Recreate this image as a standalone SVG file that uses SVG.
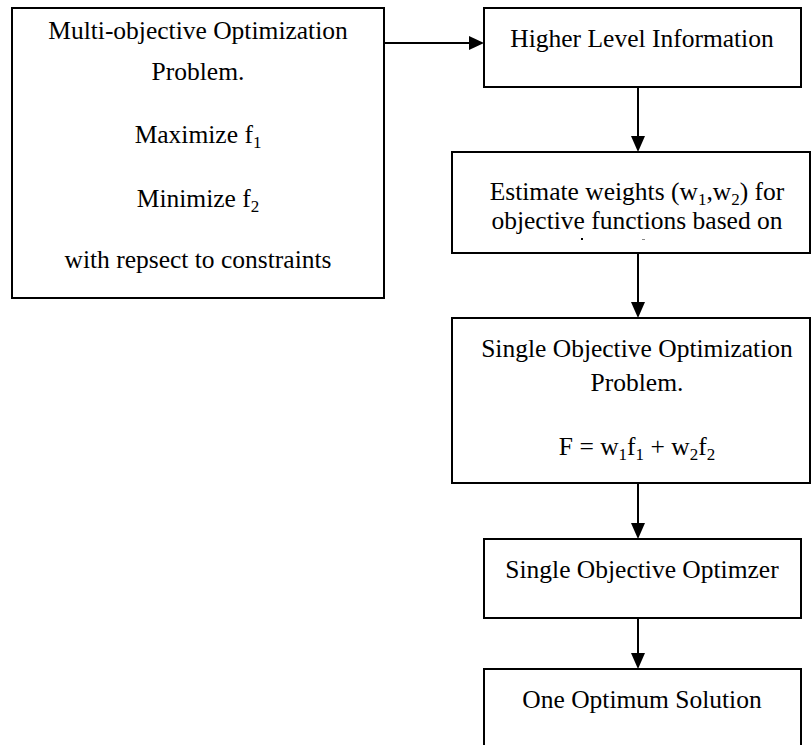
<svg xmlns="http://www.w3.org/2000/svg" width="811" height="745" viewBox="0 0 811 745">
  <style>
    .box { fill: #ffffff; stroke: #000000; stroke-width: 2; }
    .lbl { font-family: 'Liberation Serif', 'DejaVu Serif', serif; font-size: 25.5px; fill: #000000; text-anchor: middle; }
    .sub { font-size: 17px; }
    .edge { stroke: #000000; stroke-width: 2; fill: none; }
    .head { fill: #000000; stroke: none; }
  </style>
  <rect width="811" height="745" fill="#ffffff"/>

  <!-- connectors -->
  <g id="connectors">
    <line class="edge" x1="384" y1="43" x2="471" y2="43"/>
    <polygon class="head" points="484,43 469,36 469,50"/>

    <line class="edge" x1="638" y1="87" x2="638" y2="138"/>
    <polygon class="head" points="638,152 631,136 645,136"/>

    <line class="edge" x1="638" y1="253" x2="638" y2="304"/>
    <polygon class="head" points="638,318 631,302 645,302"/>

    <line class="edge" x1="638" y1="483" x2="638" y2="525"/>
    <polygon class="head" points="638,539 631,523 645,523"/>

    <line class="edge" x1="638" y1="618" x2="638" y2="655"/>
    <polygon class="head" points="638,669 631,653 645,653"/>
  </g>

  <!-- multi-objective problem -->
  <g id="multi-objective">
    <rect class="box" x="12" y="8" width="372" height="290"/>
    <text class="lbl" font-family="Liberation Serif, serif" x="198" y="39">Multi-objective Optimization</text>
    <text class="lbl" font-family="Liberation Serif, serif" x="198" y="80">Problem.</text>
    <text class="lbl" font-family="Liberation Serif, serif" x="198" y="143">Maximize f<tspan class="sub" dy="5">1</tspan></text>
    <text class="lbl" font-family="Liberation Serif, serif" x="198" y="207">Minimize f<tspan class="sub" dy="5">2</tspan></text>
    <text class="lbl" font-family="Liberation Serif, serif" x="198" y="268">with repsect to constraints</text>
  </g>

  <!-- higher level information -->
  <g id="higher-level">
    <rect class="box" x="484" y="8" width="317" height="79"/>
    <text class="lbl" font-family="Liberation Serif, serif" x="642" y="47">Higher Level Information</text>
  </g>

  <!-- weight estimation -->
  <g id="estimate-weights">
    <rect class="box" x="452" y="152" width="358" height="101"/>
    <text class="lbl" font-family="Liberation Serif, serif" x="637" y="200">Estimate weights (w<tspan class="sub" dy="5">1</tspan><tspan dy="-5">,w</tspan><tspan class="sub" dy="5">2</tspan><tspan dy="-5">) for</tspan></text>
    <text class="lbl" font-family="Liberation Serif, serif" x="637" y="229">objective functions based on</text>
    <rect x="581" y="238" width="2" height="2" fill="#000000"/>
    <rect x="642" y="239" width="3" height="1" fill="#888888"/>
  </g>

  <!-- single objective problem -->
  <g id="single-objective">
    <rect class="box" x="452" y="318" width="358" height="165"/>
    <text class="lbl" font-family="Liberation Serif, serif" x="637" y="357">Single Objective Optimization</text>
    <text class="lbl" font-family="Liberation Serif, serif" x="637" y="391">Problem.</text>
    <text class="lbl" font-family="Liberation Serif, serif" x="637" y="455">F = w<tspan class="sub" dy="5">1</tspan><tspan dy="-5">f</tspan><tspan class="sub" dy="5">1</tspan><tspan dy="-5"> + w</tspan><tspan class="sub" dy="5">2</tspan><tspan dy="-5">f</tspan><tspan class="sub" dy="5">2</tspan></text>
  </g>

  <!-- optimizer -->
  <g id="optimizer">
    <rect class="box" x="484" y="539" width="317" height="79"/>
    <text class="lbl" font-family="Liberation Serif, serif" x="642" y="578">Single Objective Optimzer</text>
  </g>

  <!-- result -->
  <g id="solution">
    <rect class="box" x="484" y="669" width="317" height="100"/>
    <text class="lbl" font-family="Liberation Serif, serif" x="642" y="708">One Optimum Solution</text>
  </g>
</svg>
